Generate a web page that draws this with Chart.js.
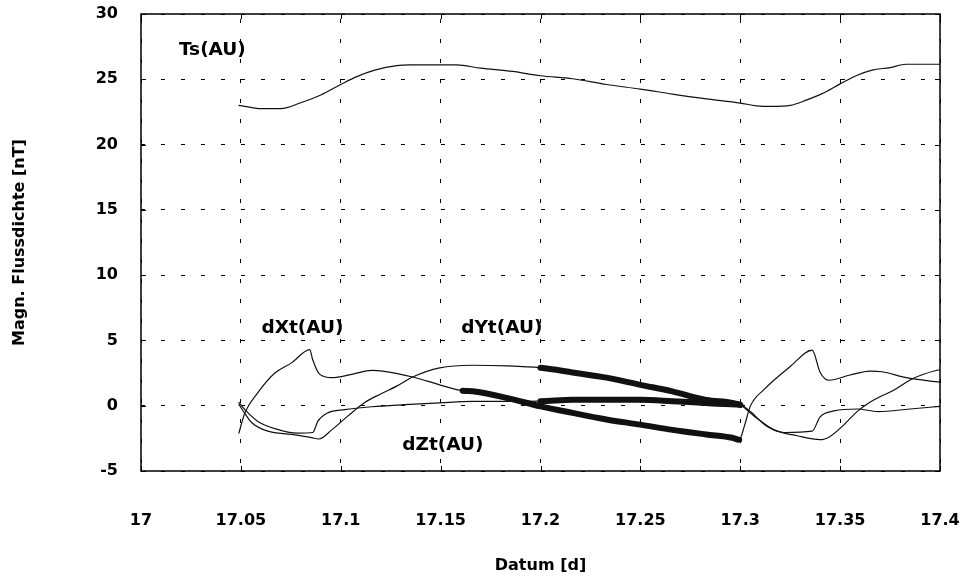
<!DOCTYPE html>
<html>
<head>
<meta charset="utf-8">
<title>Magn. Flussdichte</title>
<script src="https://cdn.jsdelivr.net/npm/chart.js@4/dist/chart.umd.min.js"></script>
<style>
    html, body { margin: 0; padding: 0; background: #fff; }
    #chart { display: block; }
</style>
</head>
<body>
<canvas id="chart" width="963" height="583"></canvas>
<script>
"use strict";

// axis ticks
const xTickValues = [17, 17.05, 17.1, 17.15, 17.2, 17.25, 17.3, 17.35, 17.4];
const yTickValues = [-5, 0, 5, 10, 15, 20, 25, 30];

// Ts(AU)
const tsTime = [17.049, 17.055, 17.059, 17.07, 17.08, 17.09, 17.1, 17.108, 17.117, 17.128, 17.135, 17.158, 17.17, 17.186, 17.2, 17.216,
    17.233, 17.25, 17.266, 17.283, 17.3, 17.308, 17.316, 17.325, 17.333, 17.341, 17.35, 17.358, 17.366, 17.375, 17.383, 17.4];
const tsValue = [23.0, 22.85, 22.75, 22.75, 23.2, 23.8, 24.6, 25.2, 25.7, 26.05, 26.1, 26.1, 25.85, 25.6, 25.27, 25.04,
    24.6, 24.25, 23.87, 23.5, 23.18, 22.97, 22.92, 23.0, 23.4, 23.9, 24.65, 25.27, 25.7, 25.9, 26.15, 26.15];

// dXt(AU)
const dxtTime = [17.049, 17.052, 17.0585, 17.067, 17.0755, 17.0845, 17.086, 17.0895, 17.0955, 17.1055, 17.1155, 17.121, 17.136,
    17.1495, 17.161, 17.166, 17.183, 17.2, 17.216, 17.233, 17.25, 17.266, 17.283, 17.296, 17.2995, 17.302, 17.305, 17.312,
    17.325, 17.336, 17.34, 17.3445, 17.355, 17.365, 17.371, 17.383, 17.4];
const dxtValue = [-2.1, -0.55, 1.0, 2.5, 3.3, 4.3, 3.5, 2.4, 2.15, 2.4, 2.7, 2.65, 2.2,
    1.6, 1.15, 1.1, 0.6, -0.05, -0.55, -1.05, -1.45, -1.85, -2.2, -2.45, -2.6, -1.6, -0.05, 1.25,
    3.0, 4.25, 2.55, 1.95, 2.35, 2.65, 2.6, 2.15, 1.8];

// dYt(AU)
const dytTime = [17.049, 17.052, 17.0555, 17.0635, 17.0755, 17.0855, 17.089, 17.0955, 17.1035, 17.112, 17.12, 17.128, 17.136,
    17.1495, 17.166, 17.183, 17.2, 17.216, 17.233, 17.25, 17.266, 17.283, 17.296, 17.3, 17.307, 17.317, 17.3285, 17.34,
    17.345, 17.352, 17.3585, 17.367, 17.377, 17.386, 17.398, 17.4];
const dytValue = [0.1, -0.6, -1.3, -1.95, -2.2, -2.45, -2.55, -1.85, -0.8, 0.25, 0.9, 1.5, 2.2,
    2.9, 3.1, 3.05, 2.9, 2.55, 2.15, 1.6, 1.1, 0.45, 0.22, 0.05, -0.8, -1.85, -2.3, -2.6,
    -2.35, -1.45, -0.45, 0.45, 1.2, 2.05, 2.7, 2.75];

// dZt(AU)
const dztTime = [17.049, 17.052, 17.0585, 17.067, 17.0785, 17.086, 17.0885, 17.0935, 17.102, 17.1155, 17.132, 17.1495, 17.166,
    17.183, 17.2, 17.216, 17.233, 17.25, 17.266, 17.283, 17.298, 17.3, 17.305, 17.3135, 17.322, 17.336, 17.34, 17.347,
    17.3585, 17.369, 17.385, 17.4];
const dztValue = [0.25, -0.3, -1.2, -1.75, -2.1, -2.05, -1.2, -0.55, -0.3, -0.08, 0.08, 0.22, 0.33,
    0.33, 0.35, 0.45, 0.46, 0.46, 0.35, 0.2, 0.1, 0.08, -0.45, -1.6, -2.05, -1.95, -0.85, -0.4,
    -0.25, -0.45, -0.25, -0.05];

// curve names and where they are written (data coordinates)
const seriesNames = ["Ts(AU)", "dXt(AU)", "dYt(AU)", "dZt(AU)"];
const nameTime = [17.019, 17.0603, 17.1603, 17.1308];
const nameValue = [27.2, 5.97, 5.97, -2.99];

const FONT = "DejaVu Sans";
const THIN = 1.2;
const THICK = 6;

function points(xs, ys) {
    return xs.map((x, i) => ({ x: x, y: ys[i] }));
}

// the averaged stretch of a curve is drawn heavy
function widthBetween(from, to) {
    return ctx => (ctx.p0.parsed.x >= from && ctx.p1.parsed.x <= to) ? THICK : THIN;
}

function curve(label, xs, ys, heavy) {
    const ds = {
        label: label,
        data: points(xs, ys),
        borderColor: "#111",
        borderWidth: THIN,
        borderJoinStyle: "round",
        borderCapStyle: "round",
        pointRadius: 0,
        cubicInterpolationMode: "monotone",
        fill: false
    };
    if (heavy) ds.segment = { borderWidth: widthBetween(heavy[0], heavy[1]) };
    return ds;
}

// no overhang padding for edge labels, the plot box is fixed
function fixBox(size) {
    return s => {
        if (s.isHorizontal()) s.height = size; else s.width = size;
        s.paddingTop = 0;
        s.paddingBottom = 0;
        s.paddingLeft = 0;
        s.paddingRight = 0;
    };
}

const framePlugin = {
    id: "frame",
    afterDatasetsDraw(chart) {
        const { ctx, chartArea: a, scales } = chart;
        ctx.save();
        ctx.strokeStyle = "#000";
        ctx.lineWidth = 1;
        ctx.beginPath();
        scales.x.ticks.forEach(t => {
            const px = Math.round(scales.x.getPixelForValue(t.value)) + 0.5;
            ctx.moveTo(px, a.top); ctx.lineTo(px, a.top + 5);
            ctx.moveTo(px, a.bottom); ctx.lineTo(px, a.bottom - 5);
        });
        scales.y.ticks.forEach(t => {
            const py = Math.round(scales.y.getPixelForValue(t.value)) + 0.5;
            ctx.moveTo(a.left, py); ctx.lineTo(a.left + 5, py);
            ctx.moveTo(a.right, py); ctx.lineTo(a.right - 5, py);
        });
        ctx.stroke();
        ctx.lineWidth = 1.5;
        ctx.strokeRect(a.left, a.top, a.right - a.left, a.bottom - a.top);

        ctx.fillStyle = "#000";
        ctx.font = "bold 18.5px '" + FONT + "'";
        ctx.textAlign = "left";
        ctx.textBaseline = "middle";
        seriesNames.forEach((name, i) => {
            ctx.fillText(name, scales.x.getPixelForValue(nameTime[i]), scales.y.getPixelForValue(nameValue[i]));
        });
        ctx.restore();
    }
};

const grid = {
    color: "#000",
    lineWidth: 1,
    drawTicks: false
};

new Chart(document.getElementById("chart"), {
    type: "line",
    data: {
        datasets: [
            curve("Ts(AU)", tsTime, tsValue, null),
            curve("dXt(AU)", dxtTime, dxtValue, [17.16, 17.2995]),
            curve("dYt(AU)", dytTime, dytValue, [17.2, 17.3]),
            curve("dZt(AU)", dztTime, dztValue, [17.195, 17.3])
        ]
    },
    options: {
        responsive: false,
        devicePixelRatio: 1,
        animation: false,
        layout: { padding: { top: 14, right: 23, bottom: 0, left: 0 } },
        plugins: {
            legend: { display: false },
            tooltip: { enabled: false }
        },
        scales: {
            x: {
                type: "linear",
                min: 17,
                max: 17.4,
                afterBuildTicks: s => { s.ticks = xTickValues.map(v => ({ value: v })); },
                afterFit: fixBox(112),
                grid: grid,
                border: { display: false, dash: [4, 16], dashOffset: 15 },
                ticks: {
                    padding: 40,
                    color: "#000",
                    font: { family: FONT, size: 16, weight: "bold" },
                    maxRotation: 0,
                    callback: v => String(+Number(v).toFixed(2))
                },
                title: {
                    display: true,
                    text: "Datum [d]",
                    color: "#000",
                    font: { family: FONT, size: 16, weight: "bold" },
                    padding: { top: 0, bottom: 8 }
                }
            },
            y: {
                min: -5,
                max: 30,
                afterBuildTicks: s => { s.ticks = yTickValues.map(v => ({ value: v })); },
                afterFit: fixBox(141),
                grid: grid,
                border: { display: false, dash: [4, 16] },
                ticks: {
                    padding: 23,
                    color: "#000",
                    font: { family: FONT, size: 16, weight: "bold" },
                    callback: v => String(v)
                },
                title: {
                    display: true,
                    text: "Magn. Flussdichte [nT]",
                    color: "#000",
                    font: { family: FONT, size: 16, weight: "bold" },
                    padding: { top: 10, bottom: 0 }
                }
            }
        }
    },
    plugins: [framePlugin]
});
</script>
</body>
</html>
